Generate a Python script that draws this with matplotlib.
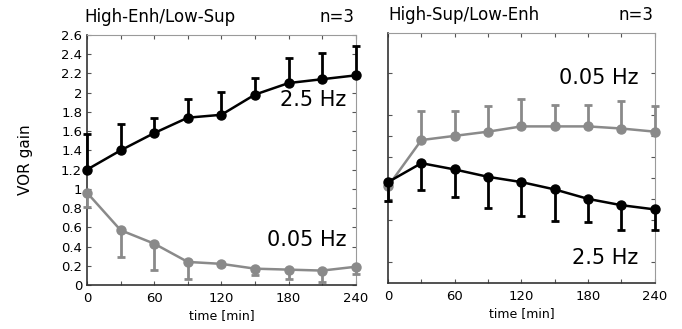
import matplotlib
matplotlib.use("Agg")
import matplotlib.pyplot as plt
import numpy as np

# time points (min)
t = np.array([0, 30, 60, 90, 120, 150, 180, 210, 240])

# High-Enh/Low-Sup
left_hi = np.array([1.20, 1.40, 1.58, 1.74, 1.77, 1.98, 2.10, 2.14, 2.18])
left_hi_err = np.array([0.37, 0.27, 0.16, 0.19, 0.24, 0.17, 0.26, 0.27, 0.31])   # upward
left_lo = np.array([0.96, 0.57, 0.43, 0.24, 0.22, 0.17, 0.16, 0.15, 0.19])
left_lo_err = np.array([0.15, 0.28, 0.27, 0.18, 0.0, 0.07, 0.10, 0.12, 0.08])    # downward

# High-Sup/Low-Enh
right_hi = np.array([0.98, 1.07, 1.04, 1.005, 0.98, 0.945, 0.90, 0.87, 0.85])
right_hi_err = np.array([0.09, 0.13, 0.13, 0.15, 0.16, 0.15, 0.11, 0.12, 0.10])  # downward
right_lo = np.array([0.96, 1.18, 1.20, 1.22, 1.245, 1.245, 1.245, 1.235, 1.22])
right_lo_err = np.array([0.07, 0.14, 0.12, 0.12, 0.13, 0.10, 0.10, 0.13, 0.12])  # up, first down

GRAY = "#8a8a8a"
plt.rcParams['font.family'] = ['DejaVu Sans']

fig = plt.figure(figsize=(6.82, 3.29), dpi=100)
axL = fig.add_axes([0.1276, 0.1337, 0.394, 0.76])
axR = fig.add_axes([0.569, 0.140, 0.391, 0.760])

def style(ax):
    ax.set_xlim(0, 240)
    ax.set_xticks([0, 60, 120, 180, 240])
    ax.set_xticks([30, 90, 150, 210], minor=True)
    ax.tick_params(axis='both', which='both', direction='in', top=True, right=True,
                   labelsize=9.5, length=3, width=0.8, color='#555555')
    ax.tick_params(axis='x', which='major', pad=5)
    for s in ['top', 'right']:
        ax.spines[s].set_color('#9a9a9a')
    for s in ['left', 'bottom']:
        ax.spines[s].set_color('#333333')
        ax.spines[s].set_linewidth(1.2)
    ax.set_xlabel('time [min]', fontsize=9, labelpad=3)

def series(ax, y, lo, hi, color, z):
    ax.errorbar(t, y, yerr=[lo, hi], color=color, marker='o', markersize=6.5,
                linewidth=1.8, elinewidth=2, capsize=3, capthick=2, zorder=z, clip_on=False)

# left panel
series(axL, left_hi, np.zeros_like(left_hi), left_hi_err, 'black', 4)
series(axL, left_lo, left_lo_err, np.zeros_like(left_lo), GRAY, 3)
style(axL)
axL.set_ylim(0, 2.6)
yt = np.round(np.arange(0, 2.61, 0.2), 1)
axL.set_yticks(yt)
axL.set_yticklabels(['0' if v == 0 else ('%g' % v) for v in yt])
axL.set_ylabel('VOR gain', fontsize=11, labelpad=20)
axL.text(0.965, 0.74, '2.5 Hz', transform=axL.transAxes, ha='right', va='center', fontsize=15)
axL.text(0.965, 0.18, '0.05 Hz', transform=axL.transAxes, ha='right', va='center', fontsize=15)
axL.text(-0.01, 1.035, 'High-Enh/Low-Sup', transform=axL.transAxes, ha='left', va='bottom', fontsize=12)
axL.text(0.995, 1.035, 'n=3', transform=axL.transAxes, ha='right', va='bottom', fontsize=12)

# right panel
right_lo_low = np.where(np.arange(len(t)) == 0, right_lo_err, 0)
right_lo_up = np.where(np.arange(len(t)) == 0, 0, right_lo_err)
series(axR, right_lo, right_lo_low, right_lo_up, GRAY, 3)
series(axR, right_hi, right_hi_err, np.zeros_like(right_hi), 'black', 4)
style(axR)
axR.set_ylim(0.5, 1.69)
axR.set_yticks([0.6, 0.8, 0.9, 1.0, 1.1, 1.2, 1.3, 1.5])
axR.set_yticklabels([])
axR.text(0.94, 0.82, '0.05 Hz', transform=axR.transAxes, ha='right', va='center', fontsize=15)
axR.text(0.94, 0.10, '2.5 Hz', transform=axR.transAxes, ha='right', va='center', fontsize=15)
axR.text(0.0, 1.035, 'High-Sup/Low-Enh', transform=axR.transAxes, ha='left', va='bottom', fontsize=12)
axR.text(0.995, 1.035, 'n=3', transform=axR.transAxes, ha='right', va='bottom', fontsize=12)

fig.savefig('out.png', dpi=100)
